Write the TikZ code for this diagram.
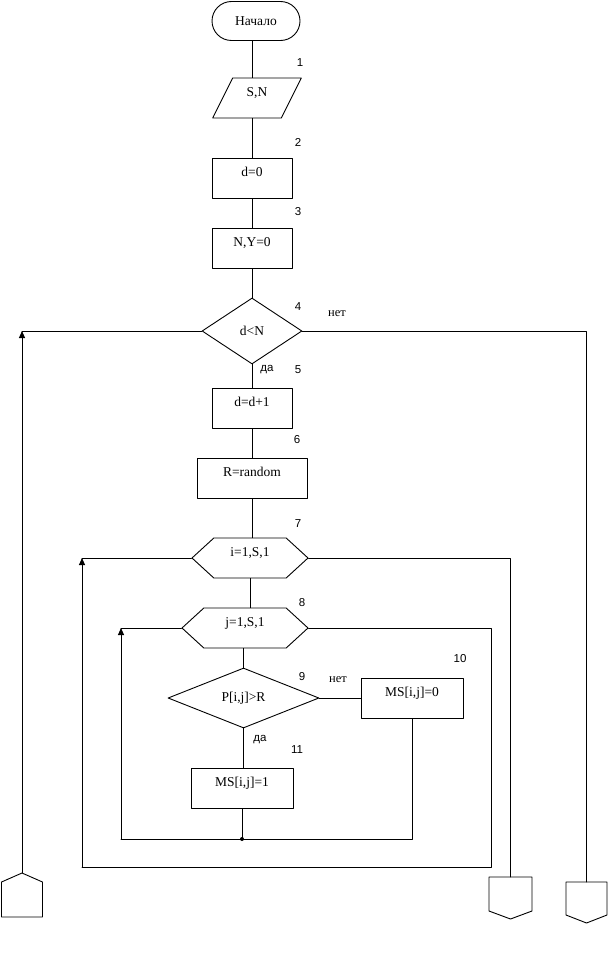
\documentclass[tikz,border=0pt]{standalone}
\usepackage{fontspec}
\setmainfont{Liberation Serif}
\newfontfamily\labelfont{Liberation Sans}
\usetikzlibrary{arrows.meta,shapes.geometric,shapes.symbols}

\begin{document}
\begin{tikzpicture}[x=1pt,y=-1pt,line width=.9pt,line cap=round,line join=round,
    txt/.style={font=\fontsize{13.5}{16}\selectfont},
    blk/.style={txt,draw,inner sep=0pt,minimum width=80pt,minimum height=40pt,text height=9pt,text depth=12pt},
    hexa/.style={blk,shape=signal,signal to=east and west,signal pointer angle=85},
    cnd/.style={txt,draw,shape=diamond,inner sep=0pt},
    num/.style={font=\labelfont\fontsize{11.5}{13}\selectfont},
    yes/.style={font=\labelfont\fontsize{11.5}{13}\selectfont},
    no/.style={font=\fontsize{12.5}{14}\selectfont},
    tip/.style={-{Triangle[length=7pt,width=6pt]}}]
    \useasboundingbox (0,0) rectangle (608,958);

    \node[txt,draw,rounded corners=19.5pt,minimum width=88pt,minimum height=39pt,inner sep=0pt] (start) at (256,21) {Начало};
    \node[txt,draw,shape=trapezium,trapezium left angle=68,trapezium right angle=112,
      trapezium stretches=true,minimum width=89pt,minimum height=40pt,inner sep=0pt,
      text height=9pt,text depth=12pt] (io) at (257,98) {S,N};
    \node[blk] (d0) at (252,178) {d=0};
    \node[blk] (ny) at (252,248) {N,Y=0};
    \node[cnd,minimum width=100pt,minimum height=66pt] (cond) at (252,331) {d<N};
    \node[blk] (inc) at (252,408) {d=d+1};
    \node[blk,minimum width=110pt] (rnd) at (252,478) {R=random};
    \node[hexa,minimum width=116pt] (ihex) at (250,558) {i=1,S,1};
    \node[hexa,minimum width=126pt] (jhex) at (245,628) {j=1,S,1};
    \node[cnd,minimum width=151pt,minimum height=60pt] (pcond) at (243.5,698) {P[i,j]>R};
    \node[blk,minimum width=102pt] (ms0) at (412,698) {MS[i,j]=0};
    \node[blk,minimum width=102pt] (ms1) at (242,788) {MS[i,j]=1};

    \node[num] (n1) at (300,63) {1};
    \node[num] (n2) at (298,142) {2};
    \node[num] (n3) at (298,212) {3};
    \node[num] (n4) at (298,307) {4};
    \node[num] (n5) at (298,370) {5};
    \node[num] (n6) at (297,440) {6};
    \node[num] (n7) at (298,524) {7};
    \node[num] (n8) at (302,603) {8};
    \node[num] (n9) at (302,677) {9};
    \node[num] (n10) at (460,659) {10};
    \node[num] (n11) at (297,750) {11};
    \node[no] (no1) at (337,314) {нет};
    \node[yes] (yes1) at (267,370) {да};
    \node[no] (no2) at (338,680) {нет};
    \node[yes] (yes2) at (260,740) {да};

    \coordinate (lconn) at (22,873);
    \coordinate (mconn) at (510.5,877);
    \coordinate (rconn) at (586.5,882);
    \draw (lconn) -- ++(20.5,9) -- ++(0,35) -- ++(-41,0) -- ++(0,-35) -- cycle;
    \draw (mconn) -- ++(21.5,0) -- ++(0,34) -- ++(-21.5,8) -- ++(-21.5,-8) -- ++(0,-34) -- cycle;
    \draw (rconn) -- ++(20.5,0) -- ++(0,33) -- ++(-20.5,8) -- ++(-20.5,-8) -- ++(0,-33) -- cycle;

    \coordinate (jr) at (491,867);
    \coordinate (ibl) at (82,867);
    \coordinate (jbl) at (121,839);
    \coordinate (dot) at (242,839);

    \draw (d0.north |- start.south) -- (d0.north |- io.north);
    \draw (d0.north |- io.south) -- (d0.north);
    \draw (d0.south) -- (ny.north);
    \draw (ny.south) -- (cond.north);
    \draw (cond.south) -- (inc.north);
    \draw (inc.south) -- (rnd.north);
    \draw (rnd.south) -- (rnd.south |- ihex.north);
    \draw (ihex.south) -- (ihex.south |- jhex.north);
    \draw (pcond.north |- jhex.south) -- (pcond.north);
    \draw (pcond.east) -- (ms0.west);
    \draw (pcond.south) -- (pcond.south |- ms1.north);
    \draw (ms1.south) -- (dot);
    \fill (dot) circle (2pt);

    \draw (cond.west) -- (lconn |- cond.west);
    \draw[tip] (lconn) -- (lconn |- cond.west);
    \draw (cond.east) -| (rconn);
    \draw (ihex.east) -| (mconn);

    \draw (jhex.east) -| (jr) -- (ibl);
    \draw[tip] (ibl) -- (ibl |- ihex.west);
    \draw (ihex.west) -- (ibl |- ihex.west);

    \draw (ms0.south) |- (jbl);
    \draw[tip] (jbl) -- (jbl |- jhex.west);
    \draw (jhex.west) -- (jbl |- jhex.west);
  \end{tikzpicture}
\end{document}
